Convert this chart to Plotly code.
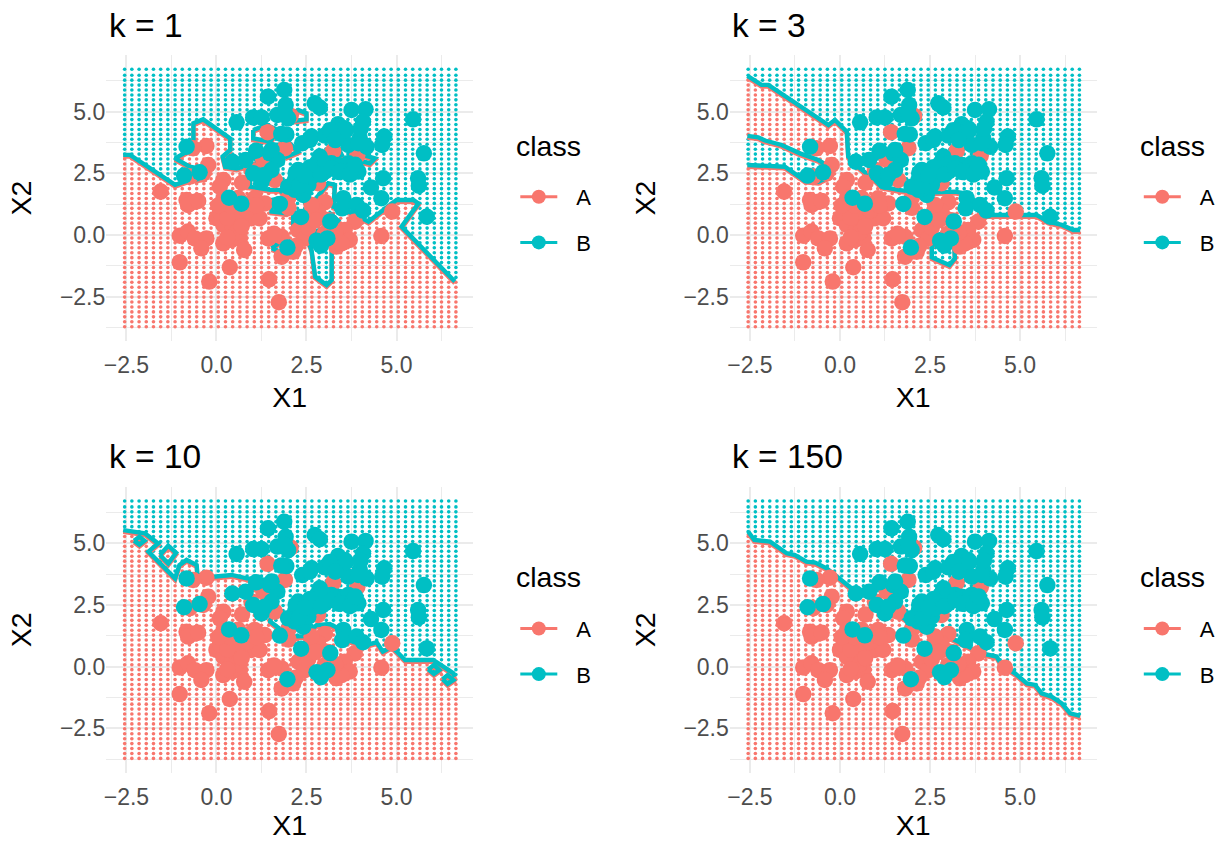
# %% KNN decision boundaries for four values of k
import plotly.graph_objects as go

# %% Data

panel_titles = ["k = 1", "k = 3", "k = 10", "k = 150"]
class_names = ["A", "B"]
legend_title = "class"
color_a = "#F8766D"
color_b = "#00BFC4"

tick_vals = [-2.5, 0.0, 2.5, 5.0]
tick_text = ["\u22122.5", "0.0", "2.5", "5.0"]
x_range = [-3.06, 7.13]
y_range = [-4.3, 7.3]

grid_x1 = [-2.55, -2.35, -2.15, -1.95, -1.75, -1.55, -1.35, -1.15, -0.95, -0.75, -0.55, -0.35,
           -0.15, 0.05, 0.25, 0.45, 0.65, 0.85, 1.05, 1.25, 1.45, 1.65, 1.85, 2.05,
           2.25, 2.45, 2.65, 2.85, 3.05, 3.25, 3.45, 3.65, 3.85, 4.05, 4.25, 4.45,
           4.65, 4.85, 5.05, 5.25, 5.45, 5.65, 5.85, 6.05, 6.25, 6.45, 6.65]
grid_x2 = [-3.72, -3.52, -3.32, -3.12, -2.92, -2.72, -2.52, -2.32, -2.12, -1.92, -1.72, -1.52,
           -1.32, -1.12, -0.92, -0.72, -0.52, -0.32, -0.12, 0.08, 0.28, 0.48, 0.68, 0.88,
           1.08, 1.28, 1.48, 1.68, 1.88, 2.08, 2.28, 2.48, 2.68, 2.88, 3.08, 3.28, 3.48,
           3.68, 3.88, 4.08, 4.28, 4.48, 4.68, 4.88, 5.08, 5.28, 5.48, 5.68, 5.88, 6.08,
           6.28, 6.48, 6.72]

a_x1 = [-1.55, -1.02, 0.37, -0.20, 1.46, 1.73, 4.58, 4.88, 1.42, 2.06, 1.90, 3.24, 3.91, -0.28,
        -0.65, -0.23, -0.37, -0.74, -0.83, -0.60, -0.79, -0.51, -1.02, -0.79, -0.60, -0.28,
        -0.42, 0.19, 0.09, 0.71, 1.30, 0.97, 1.62, 2.82, 0.00, 0.19, 0.37, 0.60, 0.97, 1.20,
        1.34, 1.06, 0.19, 0.79, 0.19, 0.42, 0.65, 0.77, 1.44, 1.81, 1.81, 2.13, 2.27, 2.45,
        2.59, 3.01, 2.82, 2.64, 3.84, 3.56, 3.70, 3.33, 3.47, 1.99, 0.45, 0.75, 0.10, 0.30,
        2.40, 3.10, 2.00, 0.55, 0.20, 0.85, 0.60, 1.10, 0.40, 0.70, 2.55, 3.00, 3.30, 0.05,
        0.30, 1.60, 2.20, 2.75]
a_x2 = [1.76, -1.11, -1.31, -1.89, -1.80, -2.73, -0.04, 0.95, 4.17, 4.83, 3.52, 3.41, 3.22, 3.61,
        3.52, 2.84, 2.50, 2.37, 1.42, 1.35, 1.22, 1.38, -0.03, 0.14, -0.14, -0.14,
        -0.54, 2.23, 1.96, 2.12, 3.04, 2.64, 2.23, 2.10, 0.68, 0.41, 0.95, 0.68, 0.68, 0.68,
        1.28, 1.49, 1.22, 1.08, -0.34, -0.20, -0.14, -0.61, -0.14, -0.07, -0.88, -0.68, 0.20, -0.14,
        0.81, 1.33, 0.95, 1.22, 0.54, 0.20, -0.20, -0.47, -0.34, 1.49, 0.30, 1.30, 0.90, 0.70,
        0.55, 0.60, 1.10, 0.10, 1.50, 1.00, 1.50, 1.20, 1.20, 0.35, 0.30, 0.05, 0.10, 1.20,
        -0.10, 0.05, -0.45, 0.60]

b_x1 = [-0.83, -0.90, -0.47, 0.35, 0.69, 1.76, 2.35, 3.16, 1.97, 2.78, 3.08, 2.90, 0.44, 0.81,
        1.10, 0.56, 1.02, 1.25, 1.43, 1.88, 1.92, 1.69, 1.99, 1.94, 2.38, 2.73, 2.87, 2.64,
        3.01, 3.38, 3.75, 4.14, 4.07, 3.43, 3.66, 3.98, 4.17, 4.66, 4.60, 5.46, 5.76, 5.60,
        5.62, 5.84, 4.58, 4.63, 4.29, 3.52, 3.49, 3.89, 4.07, 2.87, 2.78, 2.27, 2.18, 2.18,
        2.41, 2.55, 3.01, 3.38, 3.66, 3.94, 1.48, 1.69, 1.53, 1.25, 1.02, 2.45, 3.19, 3.56,
        3.80, 2.36, 2.82, 1.99, 1.34, 3.29, 3.56, 1.53, 2.27, 2.64, 3.01, 1.90, 2.59, 3.94,
        2.20, 2.60, 2.90, 3.20, 3.40, 3.70, 2.30, 2.45, 3.15, 3.60, 4.00, 1.80, 3.30, 3.85]
b_x2 = [3.58, 2.41, 2.54, 1.51, 1.27, 1.26, 0.73, 0.55, -0.51, -0.23, -0.14, -0.43, 2.97, 3.04,
        3.42, 4.57, 4.77, 4.77, 5.61, 5.88, 5.27, 4.87, 4.73, 4.08, 3.72, 5.34, 5.17, 3.99,
        4.03, 4.49, 5.07, 5.10, 4.60, 3.99, 3.65, 3.92, 3.58, 3.99, 3.65, 4.69, 3.31, 2.30,
        2.00, 0.74, 1.49, 2.30, 1.93, 1.49, 1.08, 1.22, 0.99, 3.18, 2.70, 2.64, 2.23, 1.83,
        1.62, 2.03, 2.57, 2.84, 2.91, 2.57, 3.31, 3.04, 2.64, 2.16, 2.50, 2.57, 2.91, 2.57,
        2.70, 2.16, 2.97, 1.96, 2.43, 4.06, 4.33, 3.45, 1.89, 2.37, 2.91, 4.94, 3.85, 3.72,
        2.50, 2.75, 2.45, 2.70, 2.55, 2.45, 2.00, 2.40, 4.25, 4.25, 4.30, 4.10, 3.85, 2.85]

# contour vertices: open lines run edge to edge, islands are closed
k1_main = [(-2.59, 3.25), (-2.40, 3.25), (-1.15, 2.03), (-0.74, 2.23), (-0.32, 2.30), (-0.27, 2.64),
           (-0.74, 2.77), (-1.15, 3.11), (-0.74, 3.45), (-0.64, 3.58), (-0.64, 4.53), (-0.37, 4.69),
           (0.38, 3.92), (0.38, 3.45), (0.17, 3.18), (0.24, 2.77), (0.56, 2.70), (0.93, 2.84),
           (0.93, 1.96), (1.49, 1.83), (1.76, 1.83), (1.95, 1.56), (1.53, 1.42), (1.53, 0.95),
           (1.95, 0.88), (2.13, 1.01), (2.13, 0.47), (2.34, 0.41), (2.55, 0.88), (2.60, 1.22),
           (2.88, 1.69), (3.10, 2.10), (3.29, 2.03), (3.25, 1.15), (3.80, 0.88), (4.22, 0.54),
           (4.63, 1.01), (5.00, 1.42), (5.47, 1.42), (5.61, 1.28), (5.14, 0.34), (6.62, -1.89)]
k1_islands = [
    [(2.04, 4.87), (2.27, 5.07), (2.50, 4.94), (2.50, 4.69), (2.18, 4.64)],
    [(1.02, 4.26), (1.39, 4.46), (1.72, 4.26), (1.49, 3.79), (1.02, 3.92)],
    [(1.67, 3.65), (2.04, 3.72), (2.27, 3.38), (1.95, 3.18)],
    [(3.01, 3.45), (3.34, 3.65), (3.48, 3.25), (3.15, 3.11)],
    [(3.75, 3.38), (4.40, 3.11), (4.26, 2.91), (3.71, 3.11)],
    [(1.07, 2.97), (1.35, 3.25), (1.49, 2.97), (1.21, 2.70)],
    [(2.50, -0.07), (2.64, -0.61), (2.74, -1.69), (3.06, -2.03), (3.20, -1.83), (3.20, -0.47),
     (3.38, -0.14), (2.97, 0.20), (2.64, 0.14)],
    [(1.53, -0.54), (1.90, -0.14), (2.23, -0.47), (1.95, -0.77)],
    [(2.92, 0.58), (3.15, 0.88), (3.38, 0.58), (3.15, 0.24)],
]

k3_main = [(-2.57, 6.45), (-2.18, 6.09), (-1.99, 6.09), (-0.32, 4.46), (-0.14, 4.67), (0.19, 4.19),
           (0.23, 3.18), (0.56, 2.70), (0.97, 2.23), (1.16, 1.96), (1.62, 1.83), (1.99, 1.76),
           (2.45, 1.72), (3.19, 1.76), (3.47, 1.69), (3.94, 0.95), (4.07, 0.81), (5.46, 0.81),
           (5.79, 0.54), (6.16, 0.41), (6.48, 0.20), (6.67, 0.20)]
k3_wedge = [(-2.57, 4.02), (-2.27, 3.96), (-2.08, 3.83), (-1.62, 3.65), (-1.11, 3.31), (-0.60, 3.04),
            (-0.23, 2.70), (-0.28, 2.37), (-0.60, 2.16), (-0.97, 2.20), (-1.53, 2.77), (-2.57, 2.84)]
k3_islands = [
    [(2.55, -0.47), (2.55, -0.91), (3.04, -1.22), (3.19, -0.95), (3.18, -0.54), (3.33, -0.14),
     (3.01, 0.14), (2.69, 0.00)],
]

k10_main = [(-2.59, 5.54), (-1.99, 5.41), (-1.62, 5.00), (-1.89, 4.67), (-1.15, 3.58), (-1.03, 4.12),
            (-0.83, 4.33), (-0.55, 4.12), (-0.53, 3.72), (-0.09, 3.65), (0.42, 3.72), (0.84, 3.58),
            (1.39, 3.52), (1.62, 2.91), (1.49, 1.83), (2.04, 1.22), (2.41, 1.24), (2.78, 1.69),
            (3.15, 1.73), (3.38, 1.56), (3.62, 1.08), (4.17, 0.88), (4.45, 0.99), (4.62, 0.61),
            (4.87, 0.81), (5.24, 0.27), (6.02, 0.27), (6.58, -0.27), (6.62, -0.41)]
k10_islands = [
    [(-2.29, 5.11), (-2.14, 5.27), (-2.00, 5.11), (-2.14, 4.95)],
    [(-1.57, 4.53), (-1.34, 4.91), (-1.12, 4.62), (-1.34, 4.19)],
    [(5.88, -0.11), (6.04, 0.07), (6.19, -0.14), (6.04, -0.30)],
    [(6.28, -0.51), (6.42, -0.34), (6.58, -0.54), (6.42, -0.70)],
]

k150_main = [(-2.55, 5.48), (-2.38, 5.14), (-1.94, 5.07), (-1.48, 4.60), (-1.25, 4.53), (-0.93, 4.26),
             (-0.69, 4.22), (-0.37, 3.99), (0.32, 3.18), (0.79, 2.91), (1.16, 2.23), (1.71, 2.03),
             (2.27, 1.49), (2.82, 1.35), (3.38, 0.95), (3.94, 0.54), (4.35, 0.41), (4.49, 0.07),
             (4.86, -0.27), (5.19, -0.68), (5.42, -0.74), (5.60, -1.08), (5.88, -1.22), (6.16, -1.49),
             (6.39, -1.89), (6.67, -2.00)]

panel_open_lines = [[k1_main], [k3_main, k3_wedge], [k10_main], [k150_main]]
panel_closed_lines = [k1_islands, k3_islands, k10_islands, []]

# %% Layout, in pixels of the page

page_w = 1222
page_h = 841
panel_left = [106.3, 729.8, 106.3, 729.8]
panel_top = [55.0, 55.0, 486.7, 486.7]
panel_w = 366.9
panel_h = 286.0
a_line_shift = 0.07


def inside(px, py, poly):
    hit = False
    for i in range(len(poly)):
        x0, y0 = poly[i]
        x1, y1 = poly[i - 1]
        if (y0 > py) != (y1 > py) and px < x0 + (py - y0) * (x1 - x0) / (y1 - y0):
            hit = not hit
    return hit


def closed_region(line, is_main):
    if is_main:
        return line + [(7.5, line[-1][1]), (7.5, 7.5), (-3.5, 7.5), (-3.5, line[0][1])]
    return line + [(-3.5, line[-1][1]), (-3.5, line[0][1])]


fig = go.Figure()
annotations = []

for p in range(4):
    suffix = "" if p == 0 else str(p + 1)
    xa = "x" + suffix
    ya = "y" + suffix

    regions = []
    for n, line in enumerate(panel_open_lines[p]):
        regions.append(closed_region(line, n == 0))
    regions += panel_closed_lines[p]

    dots_a = ([], [])
    dots_b = ([], [])
    for gx in grid_x1:
        for gy in grid_x2:
            count = sum(inside(gx, gy, r) for r in regions)
            target = dots_b if count % 2 else dots_a
            target[0].append(gx)
            target[1].append(gy)

    for dots, color in ((dots_a, color_a), (dots_b, color_b)):
        fig.add_trace(go.Scatter(x=dots[0], y=dots[1], mode="markers", xaxis=xa, yaxis=ya,
                                 marker={"size": 3.6, "color": color}, showlegend=False,
                                 hoverinfo="skip"))

    drawn = panel_open_lines[p] + [r + r[:1] for r in panel_closed_lines[p]]
    for line in drawn:
        fig.add_trace(go.Scatter(x=[v[0] for v in line], y=[v[1] - a_line_shift for v in line],
                                 mode="lines", xaxis=xa, yaxis=ya, showlegend=False,
                                 line={"color": color_a, "width": 4.4}, hoverinfo="skip"))
    for line in drawn:
        fig.add_trace(go.Scatter(x=[v[0] for v in line], y=[v[1] for v in line],
                                 mode="lines", xaxis=xa, yaxis=ya, showlegend=False,
                                 line={"color": color_b, "width": 4.4}, hoverinfo="skip"))

    fig.add_trace(go.Scatter(x=a_x1, y=a_x2, mode="markers", xaxis=xa, yaxis=ya, showlegend=False,
                             marker={"size": 16.5, "color": color_a}))
    fig.add_trace(go.Scatter(x=b_x1, y=b_x2, mode="markers", xaxis=xa, yaxis=ya, showlegend=False,
                             marker={"size": 16.5, "color": color_b}))

    # legend entries only
    legend_id = "legend" + suffix
    for name, color in zip(class_names, (color_a, color_b)):
        fig.add_trace(go.Scatter(x=[None], y=[None], mode="lines+markers", name="\u00a0\u00a0\u200a" + name,
                                 xaxis=xa, yaxis=ya, legend=legend_id, legendgroup=name + suffix,
                                 line={"color": color, "width": 3},
                                 marker={"size": 14, "color": color}))

    left = panel_left[p]
    top = panel_top[p]
    axis_common = {"tickvals": tick_vals, "ticktext": tick_text, "showgrid": True,
                   "gridcolor": "#EBEBEB", "gridwidth": 1.5, "zeroline": False, "showline": False,
                   "ticks": "", "automargin": False,
                   "tickfont": {"size": 23, "color": "#4D4D4D"},
                   "minor": {"showgrid": True, "tick0": -3.75, "dtick": 2.5,
                             "gridcolor": "#EBEBEB", "gridwidth": 0.75}}
    fig.update_layout({
        "xaxis" + suffix: dict(axis_common, domain=[left / page_w, (left + panel_w) / page_w],
                               range=x_range, anchor=ya, ticklabelstandoff=8,
                               title={"text": "X1", "font": {"size": 28.5, "color": "black"}, "standoff": 10}),
        "yaxis" + suffix: dict(axis_common,
                               domain=[1 - (top + panel_h) / page_h, 1 - top / page_h],
                               range=y_range, anchor=xa,
                               title={"text": "X2", "font": {"size": 28.5, "color": "black"}, "standoff": 19}),
        legend_id: {"x": (left + 409) / page_w, "y": 1 - (top + 121) / page_h, "xanchor": "left", "yanchor": "top",
                    "font": {"size": 22, "color": "black"}, "itemwidth": 37,
                    "tracegroupgap": 14, "bgcolor": "rgba(0,0,0,0)"},
    })
    annotations.append({"text": panel_titles[p], "xref": "paper", "yref": "paper", "showarrow": False,
                        "x": (left + 0.2) / page_w, "y": 1 - (top - 30) / page_h,
                        "xanchor": "left", "yanchor": "middle",
                        "font": {"size": 33.5, "color": "black"}})
    annotations.append({"text": legend_title, "xref": "paper", "yref": "paper", "showarrow": False,
                        "x": (left + 407.7) / page_w, "y": 1 - (top + 90.5) / page_h,
                        "xanchor": "left", "yanchor": "middle",
                        "font": {"size": 28.5, "color": "black"}})

fig.update_layout(width=page_w, height=page_h, margin={"l": 0, "r": 0, "t": 0, "b": 0, "pad": 0},
                  paper_bgcolor="white", plot_bgcolor="white",
                  font={"family": "Liberation Sans", "color": "black"},
                  annotations=annotations)

# browser default body margin would push the plot 8 px off the page origin
fig.write_html("out.html", config={"displayModeBar": False},
               post_script="document.body.style.margin = '0';")
